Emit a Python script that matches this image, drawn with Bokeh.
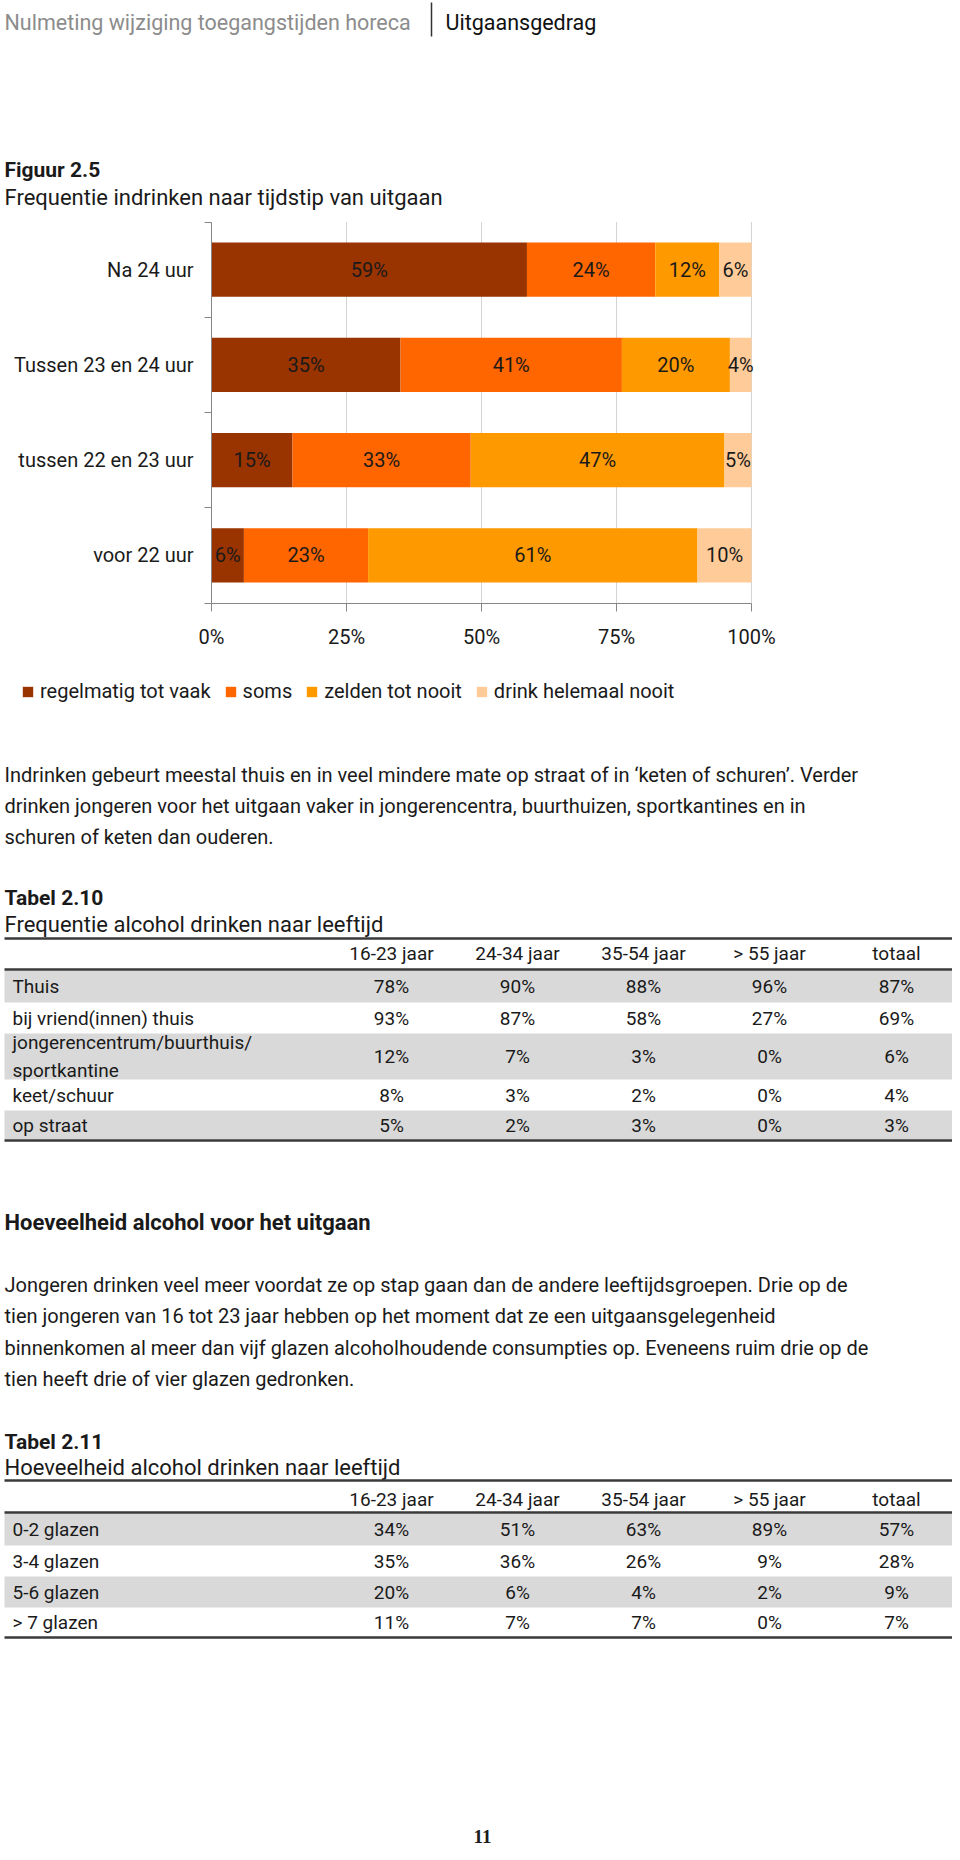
from bokeh.plotting import figure
from bokeh.models import (ColumnDataSource, Range1d, FixedTicker, NumeralTickFormatter,
                          Legend, LegendItem, LinearAxis)
from bokeh.embed import file_html
from bokeh.resources import INLINE
from bokeh.core.properties import value

# ---------------- data ----------------
categories = ["voor 22 uur", "tussen 22 en 23 uur", "Tussen 23 en 24 uur", "Na 24 uur"]  # bottom -> top
series_names = ["regelmatig tot vaak", "soms", "zelden tot nooit", "drink helemaal nooit"]
regelmatig_tot_vaak = [6, 15, 35, 59]
soms = [23, 33, 41, 24]
zelden_tot_nooit = [61, 47, 20, 12]
drink_helemaal_nooit = [10, 5, 4, 6]
series_colors = ["#993300", "#FF6600", "#FF9900", "#FFCC99"]
x_tick_values = [0, 0.25, 0.5, 0.75, 1.0]

age_groups = ["16-23 jaar", "24-34 jaar", "35-54 jaar", "> 55 jaar", "totaal"]

t210_rows = ["Thuis", "bij vriend(innen) thuis", "jongerencentrum/buurthuis/\nsportkantine",
             "keet/schuur", "op straat"]
t210_16_23 = [78, 93, 12, 8, 5]
t210_24_34 = [90, 87, 7, 3, 2]
t210_35_54 = [88, 58, 3, 2, 3]
t210_55plus = [96, 27, 0, 0, 0]
t210_totaal = [87, 69, 6, 4, 3]

t211_rows = ["0-2 glazen", "3-4 glazen", "5-6 glazen", "> 7 glazen"]
t211_16_23 = [34, 35, 20, 11]
t211_24_34 = [51, 36, 6, 7]
t211_35_54 = [63, 26, 4, 7]
t211_55plus = [89, 9, 2, 0]
t211_totaal = [57, 28, 9, 7]

header_left = "Nulmeting wijziging toegangstijden horeca"
header_right = "Uitgaansgedrag"
fig_label = "Figuur 2.5"
fig_title = "Frequentie indrinken naar tijdstip van uitgaan"
para1 = ["Indrinken gebeurt meestal thuis en in veel mindere mate op straat of in \u2018keten of schuren\u2019. Verder",
         "drinken jongeren voor het uitgaan vaker in jongerencentra, buurthuizen, sportkantines en in",
         "schuren of keten dan ouderen."]
tab10_label = "Tabel 2.10"
tab10_title = "Frequentie alcohol drinken naar leeftijd"
heading2 = "Hoeveelheid alcohol voor het uitgaan"
para2 = ["Jongeren drinken veel meer voordat ze op stap gaan dan de andere leeftijdsgroepen. Drie op de",
         "tien jongeren van 16 tot 23 jaar hebben op het moment dat ze een uitgaansgelegenheid",
         "binnenkomen al meer dan vijf glazen alcoholhoudende consumpties op. Eveneens ruim drie op de",
         "tien heeft drie of vier glazen gedronken."]
tab11_label = "Tabel 2.11"
tab11_title = "Hoeveelheid alcohol drinken naar leeftijd"
page_number = "11"

# ---------------- styling / layout ----------------
FONT = "Roboto"
TXT = "#1a1a1a"
AX = "#868686"
W, H = 952, 1852

p = figure(width=W, height=H, x_range=Range1d(0, W), y_range=Range1d(H, 0),
           x_axis_type=None, y_axis_type=None, toolbar_location=None,
           output_backend="svg", min_border=0, outline_line_color=None)


def add_text(xs, ys, texts, size="20px", style="normal", color=TXT, align="left", font=FONT,
             line_height=1.2):
    src = ColumnDataSource(dict(x=list(xs), y=list(ys), text=list(texts)))
    p.text(x="x", y="y", text="text", source=src, text_font=value(font), text_font_size=size,
           text_font_style=style, text_color=color, text_align=align, text_baseline="middle",
           text_line_height=line_height)


# ---------------- header + figure caption ----------------
add_text([4], [22], [header_left], size="21.5px", color="#8c8c8c")
add_text([445], [22], [header_right], size="21.5px", color="#111111")
p.segment(x0=[431], y0=[2], x1=[431], y1=[36], line_color="#333333", line_width=1.5)
add_text([4], [169], [fig_label], size="21px", style="bold")
add_text([4], [197], [fig_title], size="22px")

# ---------------- 100% stacked bar chart (own ranges) ----------------
CH_L, CH_R, CH_T, CH_B = 211.0, 751.0, 221.5, 602.5   # chart frame in page pixels
n_cat = len(categories)
ppx = CH_R - CH_L
ppy = (CH_B - CH_T) / n_cat
p.extra_x_ranges = {"pct": Range1d(-CH_L / ppx, 1 + (W - CH_R) / ppx)}
p.extra_y_ranges = {"cat": Range1d(-(H - CH_B) / ppy, n_cat + CH_T / ppy)}
RN = dict(x_range_name="pct", y_range_name="cat")

series_values = [regelmatig_tot_vaak, soms, zelden_tot_nooit, drink_helemaal_nooit]
totals = [sum(v[i] for v in series_values) for i in range(n_cat)]
y_pos = [i + 0.5 for i in range(n_cat)]

# vertical grid lines at the tick positions
p.segment(x0=x_tick_values, x1=x_tick_values, y0=[0] * len(x_tick_values),
          y1=[n_cat] * len(x_tick_values), line_color="#D4D4D4", line_width=1,
          level="underlay", **RN)

keys = ["s%d" % k for k in range(len(series_values))]
data = dict(y=y_pos)
for k, vals in zip(keys, series_values):
    data[k] = [v / t for v, t in zip(vals, totals)]
src = ColumnDataSource(data)
renderers = p.hbar_stack(keys, y="y", height=0.567, color=series_colors, line_color=None,
                         source=src, **RN)

lx, ly, lt = [], [], []
for i in range(n_cat):
    left = 0.0
    for vals in series_values:
        frac = vals[i] / totals[i]
        lx.append(left + frac / 2)
        ly.append(y_pos[i])
        lt.append("%d%%" % vals[i])
        left += frac
lsrc = ColumnDataSource(dict(x=lx, y=ly, text=lt))
p.text(x="x", y="y", text="text", source=lsrc, text_font=value(FONT), text_font_size="20px",
       text_color=TXT, text_align="center", text_baseline="middle", **RN)

xa = LinearAxis(fixed_location=0, bounds=(0, 1),
                ticker=FixedTicker(ticks=x_tick_values),
                formatter=NumeralTickFormatter(format="0%"),
                axis_line_color=AX, major_tick_line_color=AX, major_tick_out=8, major_tick_in=0,
                minor_tick_line_color=None, major_label_standoff=14,
                major_label_text_font=FONT, major_label_text_font_size="20px",
                major_label_text_color=TXT, **RN)
p.add_layout(xa, "below")

ya = LinearAxis(fixed_location=0, bounds=(0, n_cat),
                ticker=FixedTicker(ticks=y_pos, minor_ticks=[float(i) for i in range(n_cat + 1)]),
                major_label_overrides={y: c for y, c in zip(y_pos, categories)},
                axis_line_color=AX, major_tick_line_color=None, major_tick_out=0, major_tick_in=0,
                minor_tick_line_color=AX, minor_tick_out=7, minor_tick_in=0,
                major_label_standoff=11, major_label_text_font=FONT,
                major_label_text_font_size="20px", major_label_text_color=TXT, **RN)
p.add_layout(ya, "left")

legend = Legend(items=[LegendItem(label=n, renderers=[r]) for n, r in zip(series_names, renderers)],
                orientation="horizontal", location=(21, 1149),
                glyph_width=13, glyph_height=13, label_standoff=6, spacing=13,
                padding=0, margin=0, border_line_color=None, background_fill_alpha=0,
                label_text_font=FONT, label_text_font_size="20px", label_text_color=TXT)
p.add_layout(legend, "center")

# ---------------- body text and tables ----------------
add_text([4] * len(para1), [774, 805, 836], para1)

col_x = [391, 517, 643, 769, 896]
RULE = "#3a3a3a"
BAND = "#D9D9D9"
TSIZE = "19px"


def draw_table(label, title, label_y, title_y, top_rule, head_y, head_rule, row_edges,
               row_names, columns, bottom_rule):
    add_text([4], [label_y], [label], size="21px", style="bold")
    add_text([4], [title_y], [title], size="22px")
    bt, bb = [], []
    for i in range(0, len(row_names), 2):
        bt.append(row_edges[i])
        bb.append(row_edges[i + 1])
    p.quad(left=4, right=W, top=bt, bottom=bb, fill_color=BAND, line_color=None)
    p.segment(x0=[4] * 3, x1=[W] * 3, y0=[top_rule, head_rule, bottom_rule],
              y1=[top_rule, head_rule, bottom_rule], line_color=RULE, line_width=2.5)
    add_text(col_x, [head_y] * len(age_groups), age_groups, size=TSIZE, align="center")
    centers = [(row_edges[i] + row_edges[i + 1]) / 2 for i in range(len(row_names))]
    add_text([12] * len(row_names), centers, row_names, size=TSIZE, line_height=1.22)
    xs, ys, ts = [], [], []
    for cx, vals in zip(col_x, columns):
        for cy, v in zip(centers, vals):
            xs.append(cx)
            ys.append(cy)
            ts.append("%d%%" % v)
    add_text(xs, ys, ts, size=TSIZE, align="center")


draw_table(tab10_label, tab10_title, 897, 924, 938, 953, 969,
           [970, 1002, 1033, 1079, 1110, 1139], t210_rows,
           [t210_16_23, t210_24_34, t210_35_54, t210_55plus, t210_totaal], 1140)

add_text([4], [1222], [heading2], size="22px", style="bold")
add_text([4] * len(para2), [1284, 1315, 1347, 1378], para2)

draw_table(tab11_label, tab11_title, 1441, 1467, 1480, 1499, 1512,
           [1513, 1545, 1576, 1607, 1636], t211_rows,
           [t211_16_23, t211_24_34, t211_35_54, t211_55plus, t211_totaal], 1637)

add_text([482], [1836], [page_number], size="19px", style="bold", font="Liberation Serif",
         align="center")

open("out.html", "w").write(file_html(p, INLINE))
